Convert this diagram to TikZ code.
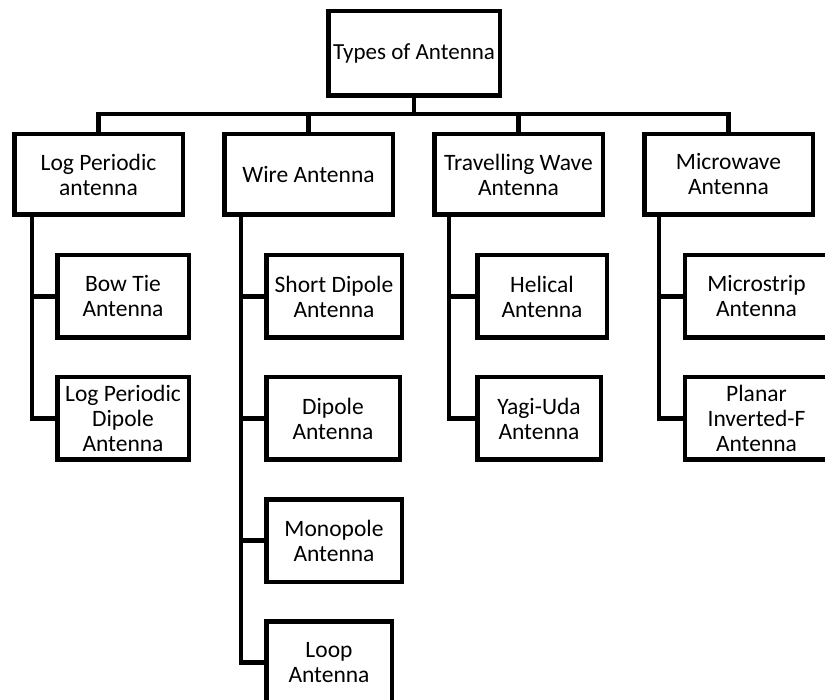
\documentclass[tikz,border=0pt]{standalone}
\usepackage{fontspec}
\setmainfont{Carlito}
\begin{document}
\begin{tikzpicture}[x=1pt,y=-1pt,
  box/.style={draw=black,line width=4.5pt,inner sep=0pt,align=center,text=black,font=\fontsize{23.5}{25}\selectfont},
  topbox/.style={box,minimum width=171.5pt,minimum height=84.5pt,font=\fontsize{23}{25}\selectfont},
  lvlone/.style={box,minimum width=168.5pt,minimum height=80.5pt},
  lvltwo/.style={box,minimum height=82.5pt},
  conn/.style={line width=4.5pt,line join=miter}]
\useasboundingbox (0,0) rectangle (825,700);
\clip (0,0) rectangle (825,700);

\node[topbox] (root) at (414,53.5) {Types of Antenna};

\node[lvlone] (lp) at (98.5,174.5) {Log Periodic\\antenna};
\node[lvlone] (wa) at (308.5,174.5) {Wire Antenna};
\node[lvlone] (tw) at (518.5,174.5) {Travelling Wave\\Antenna};
\node[lvlone] (mw) at (728.5,174.5) {Microwave\\Antenna};

\node[lvltwo,minimum width=131.5pt] (bt) at (123,296.5) {Bow Tie\\Antenna};
\node[lvltwo,minimum width=131.5pt] (lpd) at (123,418.5) {Log Periodic\\Dipole\\Antenna};

\node[lvltwo,minimum width=135.5pt] (sd) at (334,296.5) {Short Dipole\\Antenna};
\node[lvltwo,minimum width=133.5pt] (dp) at (333,418.5) {Dipole\\Antenna};
\node[lvltwo,minimum width=135.5pt] (mp) at (334,540.5) {Monopole\\Antenna};
\node[lvltwo,minimum width=125.5pt] (lo) at (329,662.5) {Loop\\Antenna};

\node[lvltwo,minimum width=129.5pt] (he) at (542,296.5) {Helical\\Antenna};
\node[lvltwo,minimum width=123.5pt] (yu) at (539,418.5) {Yagi-Uda\\Antenna};

\node[lvltwo,minimum width=143pt] (ms) at (756.5,296.5) {Microstrip\\Antenna};
\node[lvltwo,minimum width=143pt] (pi) at (756.5,418.5) {Planar\\Inverted-F\\Antenna};

\coordinate (bus) at (414,114);
\draw[conn] (root.south) -- (bus);
\draw[conn] (lp.north) -- (lp.north |- bus) -- (mw.north |- bus) -- (mw.north);
\draw[conn] (wa.north) -- (wa.north |- bus);
\draw[conn] (tw.north) -- (tw.north |- bus);

\coordinate (s1) at (32,215);
\coordinate (s2) at (241,215);
\coordinate (s3) at (449,215);
\coordinate (s4) at (659,215);

\draw[conn] (s1) |- (lpd.west);
\draw[conn] (s1 |- bt.west) -- (bt.west);

\draw[conn] (s2) |- (lo.west);
\draw[conn] (s2 |- sd.west) -- (sd.west);
\draw[conn] (s2 |- dp.west) -- (dp.west);
\draw[conn] (s2 |- mp.west) -- (mp.west);

\draw[conn] (s3) |- (yu.west);
\draw[conn] (s3 |- he.west) -- (he.west);

\draw[conn] (s4) |- (pi.west);
\draw[conn] (s4 |- ms.west) -- (ms.west);
\end{tikzpicture}
\end{document}
